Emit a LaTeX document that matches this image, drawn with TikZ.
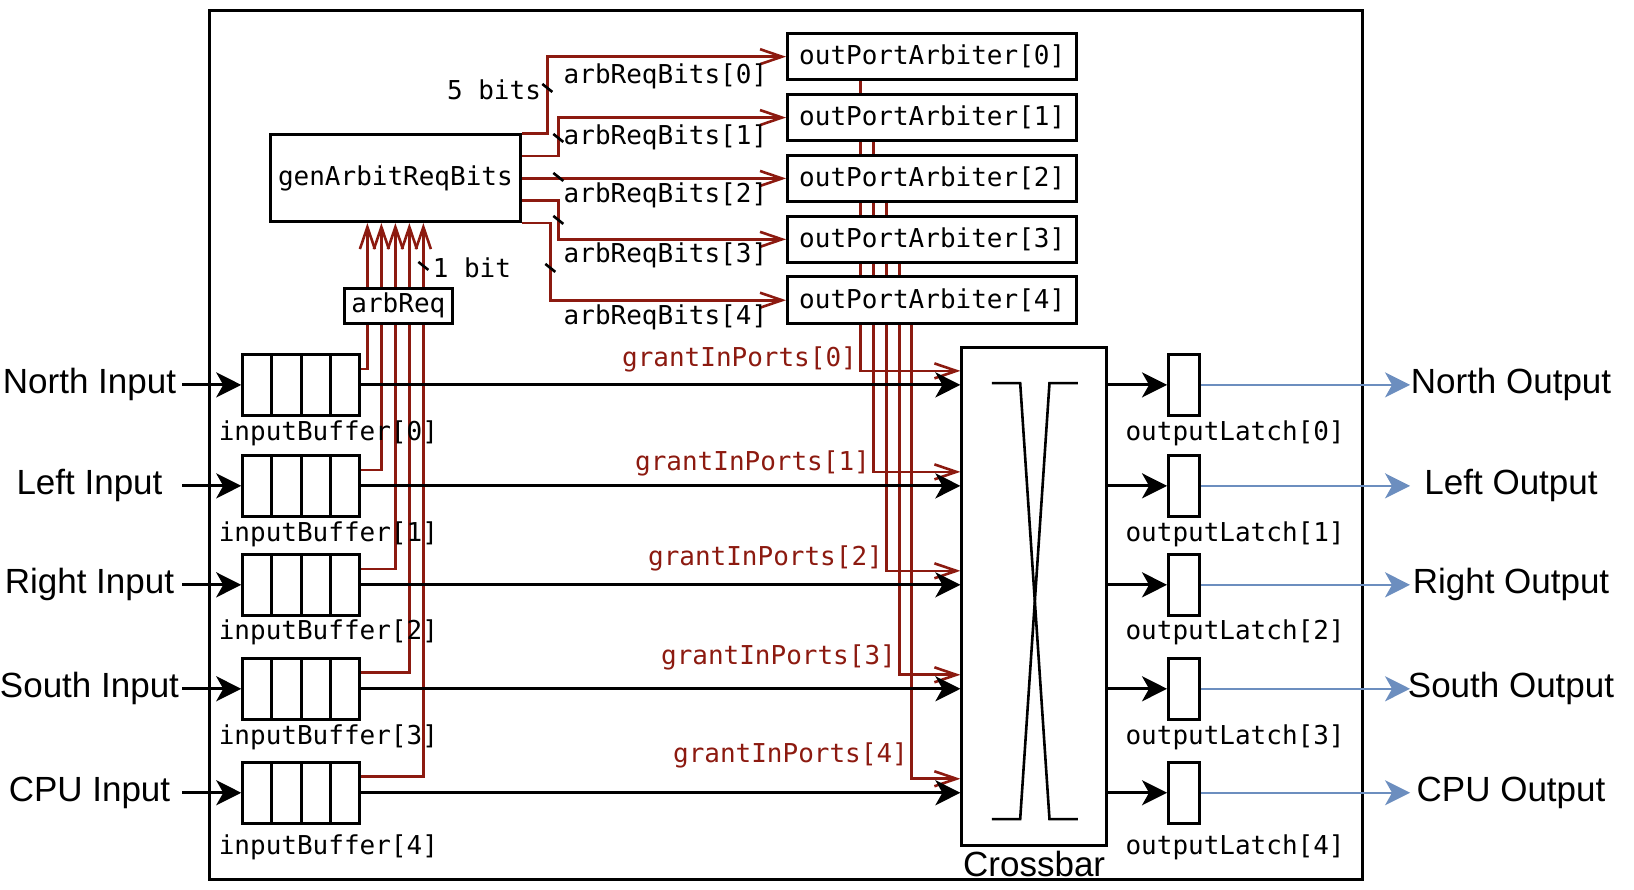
\documentclass[tikz,border=0pt]{standalone}
\usepackage{fontspec}
\setsansfont{Liberation Sans}
\setmonofont{DejaVu Sans Mono}
\usetikzlibrary{arrows.meta,calc,backgrounds}
\definecolor{wirered}{RGB}{140,26,16}
\definecolor{outblue}{HTML}{6C8EBF}

\begin{document}
\begin{tikzpicture}[x=0.5pt, y=-0.5pt,
        every node/.style={font=\ttfamily\fontsize{13}{15}\selectfont, inner sep=0pt},
        block/.style={draw, line width=1.5pt, fill=white},
        fifo/.style={block, minimum width=58.5pt, minimum height=30.5pt,
            path picture={\foreach \f in {0.25,0.5,0.75}
                \draw[line width=1.5pt] ($(path picture bounding box.north west)!\f!(path picture bounding box.north east)$)
                    -- ($(path picture bounding box.south west)!\f!(path picture bounding box.south east)$);}},
        latch/.style={block, minimum width=15.3pt, minimum height=30.5pt},
        arbiter/.style={block, minimum width=144.7pt, minimum height=23.3pt},
        portname/.style={font=\sffamily\fontsize{17.5}{21}\selectfont},
        wire/.style={line width=1.5pt, -{Stealth[length=12.5pt, width=12.5pt, inset=3.5pt]}},
        outwire/.style={wire, outblue, line width=1.2pt},
        req/.style={wirered, line width=1.3pt, -{Straight Barb[length=11pt, width=7.5pt]}},
        grant/.style={req},
        bitmark/.style={line width=1.3pt},
        redtext/.style={text=wirered}]

    % arbitration logic
    \node[block, minimum width=125pt, minimum height=43.3pt] (gen) at (395,178.3) {genArbitReqBits};
    \node[block, minimum width=54pt, minimum height=17.5pt] (arbreq) at (398,305.8) {arbReq};
    \foreach \i in {0,...,4}
        \node[arbiter] (opa\i) at (932,56.7+60.9*\i) {outPortArbiter[\i]};
    \node[anchor=east] (fivebits) at (541,90) {5 bits};
    \node[anchor=west] (onebit) at (432,268) {1 bit};
    \foreach \i/\ly in {0/76,1/137,2/195,3/255,4/317}
        \node[anchor=west] (arl\i) at (563,\ly) {arbReqBits[\i]};

    % ports, buffers and latches
    \foreach \i/\y/\ly/\port in {0/385/433/North, 1/486/534/Left, 2/585/633/Right, 3/689/738/South, 4/793/848/CPU} {
        \node[fifo] (ib\i) at (300.8,\y) {};
        \node[anchor=west] (ibl\i) at (218,\ly) {inputBuffer[\i]};
        \node[latch] (ol\i) at (1183.7,\y) {};
        \node[anchor=west] (oll\i) at (1125,\ly) {outputLatch[\i]};
        \node[portname] (pin\i) at (89,\y) {\port\ Input};
        \node[portname] (pout\i) at (1511,\y) {\port\ Output};
        \coordinate (src\i) at (182,\y);
        \coordinate (dst\i) at (1410,\y);
    }

    % crossbar
    \node[block, minimum width=72.5pt, minimum height=249.2pt] (xbar) at (1034.2,596.5) {};
    \node[portname, anchor=base] (xbarl) at (1034,877) {Crossbar};
    \draw[line width=1.3pt] (991.7,383.3) -- (1020,383.3) -- (1049.3,819.3) -- (1077.7,819.3);
    \draw[line width=1.3pt] (991.7,819.3) -- (1020,819.3) -- (1049.3,383.3) -- (1077.7,383.3);

    % grant labels
    \foreach \i/\xg/\ly in {0/860/360, 1/873/464, 2/886/559, 3/899/658, 4/911/756}
        \node[redtext, anchor=east] (gl\i) at (\xg-3,\ly) {grantInPorts[\i]};

    \begin{scope}[on background layer]
        \draw[line width=1.5pt] (209.3,10.4) rectangle (1362,880);
        % requests up into genArbitReqBits
        \foreach \i/\xr in {0/367,1/381,2/395,3/409,4/423}
            \draw[req] ($(ib\i.north east)!.25!(ib\i.south east)$) -| (\xr,0 |- gen.south);
        % request bits out to the arbiters
        \foreach \k/\xv in {0/547,1/558,2/558,3/558,4/550}
            \draw[req] ($(gen.north east)!\k/4!(gen.south east)$) -| (\xv,0 |- opa\k.west) -- (opa\k.west);
        % grants down into the crossbar
        \foreach \i/\xg/\y in {0/860/385, 1/873/486, 2/886/585, 3/899/689, 4/911/793}
            \draw[grant] (\xg,0 |- opa\i.south) |- (xbar.west |- 0,\y-14);
        % data path
        \foreach \i in {0,...,4} {
            \draw[wire] (src\i) -- (ib\i.west);
            \draw[wire] (ib\i.east) -- (xbar.west |- ib\i.east);
            \draw[wire] (xbar.east |- ol\i.west) -- (ol\i.west);
            \draw[outwire] (ol\i.east) -- (dst\i);
        }
    \end{scope}

    % bit width marks
    \foreach \p in {(547,88), (558,138), (558,177), (558,220), (550,268), (423,266)}
        \draw[bitmark] \p +(-5,-4) -- +(5,4);

    \useasboundingbox (0,0) rectangle (1634,890);
\end{tikzpicture}
\end{document}
